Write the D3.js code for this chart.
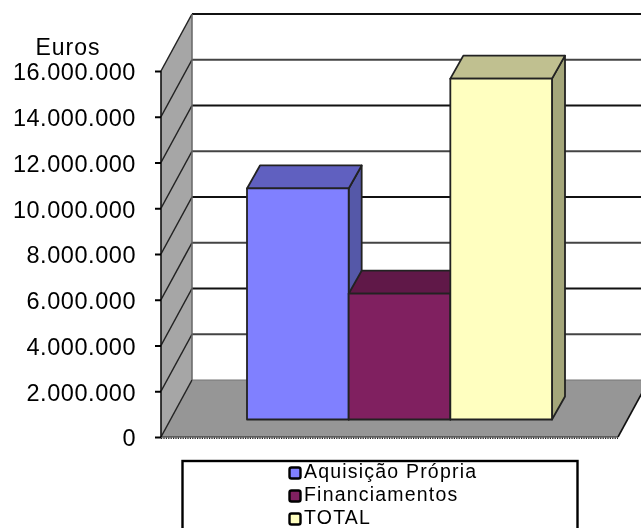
<!DOCTYPE html>
<html><head><meta charset="utf-8">
<script src="https://cdn.jsdelivr.net/npm/d3@7"></script>
<style>html,body{margin:0;padding:0;background:#fff;overflow:hidden}svg{display:block;filter:blur(.5px)}text{font-family:"Liberation Sans",Arial,sans-serif;fill:#000}</style>
</head><body><svg id="c" width="641" height="528"></svg>
<script>
const categories=["Aquisição Própria","Financiamentos","TOTAL"];
const values=[10100000,5500000,14900000];
const tickValues=[0,2000000,4000000,6000000,8000000,10000000,12000000,14000000,16000000];
const faceColors=["#8080FF","#802060","#FFFFC0"];
const topColors=["#6060C0","#601848","#C0C090"];
const sideColors=["#5558A8","#501040","#A4A67A"];
const axisTitle="Euros";

const svg=d3.select("#c");
const y=d3.scaleLinear().domain([0,16000000]).range([437,71]);
const x=d3.scaleBand().domain(categories).range([247,552]).paddingInner(0).paddingOuter(0);
const wallDx=31,wallDy=57,x0=161,xEnd=618;
const barDx=13,barDy=23,baseShift=17.5;
const poly=p=>p.map(a=>a.join(",")).join(" ");

svg.append("rect").attr("x",x0+wallDx).attr("y",y(16000000)-wallDy).attr("width",641-x0-wallDx).attr("height",366).attr("fill","#fff");
svg.append("polygon").attr("points",poly([[x0,y(0)],[x0+wallDx,y(0)-wallDy],[xEnd+wallDx,y(0)-wallDy],[xEnd,y(0)]])).attr("fill","#969696");
svg.append("polygon").attr("points",poly([[x0,y(16000000)],[x0+wallDx,y(16000000)-wallDy],[x0+wallDx,y(0)-wallDy],[x0,y(0)]])).attr("fill","#A6A6A6");
const grid=svg.append("g");
tickValues.forEach(v=>{
  const yy=y(v);
  grid.append("line").attr("x1",x0).attr("y1",yy).attr("x2",x0+wallDx).attr("y2",yy-wallDy).attr("stroke","#222").attr("stroke-width",1.5);
  if(v>0) grid.append("line").attr("x1",x0+wallDx).attr("y1",yy-wallDy).attr("x2",641).attr("y2",yy-wallDy).attr("stroke",v%4000000===0?"#111":"#444").attr("stroke-width",2);
});
grid.append("line").attr("x1",x0+wallDx).attr("y1",y(0)-wallDy).attr("x2",641).attr("y2",y(0)-wallDy).attr("stroke","#777").attr("stroke-width",1.2);
grid.append("line").attr("x1",x0+wallDx).attr("y1",y(16000000)-wallDy).attr("x2",x0+wallDx).attr("y2",y(0)-wallDy).attr("stroke","#666").attr("stroke-width",1.5);
grid.append("line").attr("x1",xEnd).attr("y1",y(0)).attr("x2",xEnd+wallDx).attr("y2",y(0)-wallDy).attr("stroke","#111").attr("stroke-width",1.6);
grid.append("line").attr("x1",x0).attr("y1",y(0)).attr("x2",xEnd).attr("y2",y(0)).attr("stroke","#222").attr("stroke-width",1.2);
grid.append("line").attr("x1",x0).attr("y1",y(0)+1.3).attr("x2",xEnd).attr("y2",y(0)+1.3).attr("stroke","#222").attr("stroke-width",1.4).attr("stroke-dasharray","1.2 1.2");

categories.forEach((c,i)=>{
  const xl=x(c),xr=xl+x.bandwidth(),top=y(values[i])-baseShift,base=y(0)-baseShift;
  const g=svg.append("g").attr("stroke","#222").attr("stroke-width",1.8).attr("stroke-linejoin","round");
  g.append("polygon").attr("points",poly([[xr,top],[xr+barDx,top-barDy],[xr+barDx,base-barDy],[xr,base]])).attr("fill",sideColors[i]);
  g.append("polygon").attr("points",poly([[xl,top],[xl+barDx,top-barDy],[xr+barDx,top-barDy],[xr,top]])).attr("fill",topColors[i]);
  g.append("rect").attr("x",xl).attr("y",top).attr("width",x.bandwidth()).attr("height",base-top).attr("fill",faceColors[i]);
});

const fmt=d=>d3.format(",")(d).replace(/,/g,".");
const ax=svg.append("g").attr("transform",`translate(${x0},0)`).call(d3.axisLeft(y).tickValues(tickValues).tickFormat(fmt).tickSize(6).tickPadding(19));
ax.select(".domain").attr("stroke","#111").attr("stroke-width",1.6).attr("d",`M0,${y(16000000)}V${y(0)}`);
ax.selectAll(".tick line").attr("stroke","#000").attr("stroke-width",2);
ax.selectAll("text").attr("dy",".38em").style("font-size","23.5px").style("letter-spacing",".55px").style("font-family",'"Liberation Sans",Arial,sans-serif').attr("fill","#000");
svg.append("text").attr("x",68).attr("y",55).attr("text-anchor","middle").style("font-size","23px").style("letter-spacing","1px").text(axisTitle);

svg.append("rect").attr("x",182.5).attr("y",461).attr("width",395).attr("height",80).attr("fill","#fff").attr("stroke","#000").attr("stroke-width",2.4);
const lg=svg.selectAll(".lg").data(categories).join("g").attr("class","lg").attr("transform",(d,i)=>`translate(289,${473+i*23})`);
lg.append("rect").attr("x",.5).attr("y",-5.5).attr("width",11).attr("height",11).attr("rx",2).attr("fill",(d,i)=>faceColors[i]).attr("stroke","#000").attr("stroke-width",2.4);
lg.append("text").attr("x",15).attr("y",5).style("font-size","19.5px").style("letter-spacing","1.2px").text(d=>d);
</script></body></html>
